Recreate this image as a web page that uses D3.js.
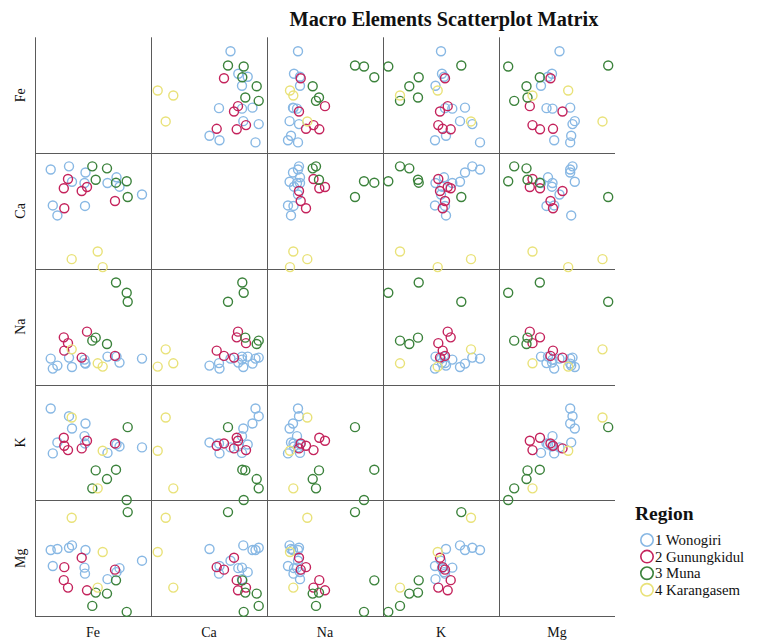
<!DOCTYPE html>
<html><head><meta charset="utf-8">
<script src="https://cdn.jsdelivr.net/npm/d3@7"></script>
<style>body{margin:0;background:#fff}svg{display:block}</style>
</head><body>
<svg id="c" width="776" height="642"></svg>
<script>
// Variables (matrix order)
const variables = ["Fe","Ca","Na","K","Mg"];
const regionNames = ["1 Wonogiri","2 Gunungkidul","3 Muna","4 Karangasem"];
const regionColors = ["#88b8e4","#c4235c","#3b823b","#e9e279"];
// Region index of each sample
const region = [0,0,0,0,0,0,0,0,0,0,0,0, 1,1,1,1,1,1, 2,2,2,2,2,2, 3,3,3];
// Element values (relative units, 0-116)
const Fe = [107,84.5,81.5,72.5,50.5,49.5,50,37,34,22.4,17.8,15.7, 46.7,29.3,80,28.8,33,52, 92.7,81,60.7,72,57.3,91.7, 36.7,67.7,62.7];
const Ca = [79.5,87.3,96.7,91,101.5,91,68,92.3,107.7,58.5,68.5,104.5, 83,65.7,73,85.7,95,87, 77,91.3,94.3,105.7,107.7,92.7, 14.7,6.7,22.3];
const Na = [31,27,33,33,26,30,26.5,22.6,32,24,21,31, 32,39,33.7,52.3,46.5,58, 88,107.3,52,45.7,49,97, 40.3,23,26.3];
const K  = [58,59,61,52.5,82,69.3,62,77,89.3,63,52,97, 57,59.7,62,67.7,55.3,64.7, 78.3,35.7,35,26.3,17,5.3, 88,54.7,17];
const Mg = [60.5,53,49,42,71.2,53.5,47.5,75.8,73.5,72.2,55.2,71.2, 63.5,54,51.5,41,33.5,30.8, 109.2,40.8,28.5,27.5,15.2,9.2, 103.5,69.2,33.5];
const valueDomain = [0,116];

const columns = {Fe, Ca, Na, K, Mg};
const samples = region.map((r,i) => {
  const o = {region: r};
  variables.forEach(v => o[v] = columns[v][i]);
  return o;
});

const svg = d3.select("#c");
const gridLeft = 35, gridTop = 37.3, cw = 116, ch = 115.75;
const n = variables.length;
const colScale = d3.scaleBand().domain(variables).range([gridLeft, gridLeft + n*cw]);
const rowScale = d3.scaleBand().domain(variables).range([gridTop, gridTop + n*ch]);
const xIn = d3.scaleLinear().domain(valueDomain).range([0, cw]);
const yIn = d3.scaleLinear().domain(valueDomain).range([ch + 5, 5]);
const color = d3.scaleOrdinal().domain([0,1,2,3]).range(regionColors);
const font = "'Liberation Serif','Times New Roman',serif";

// Title
svg.append("text").attr("x", 444).attr("y", 26).attr("text-anchor","middle")
  .attr("font-family", font).attr("font-weight","bold").attr("font-size", 20.3)
  .attr("fill","#111").text("Macro Elements Scatterplot Matrix");

// Grid lines
const g = svg.append("g");
variables.forEach(v => {
  const x = Math.round(colScale(v)) + 0.5;
  g.append("line").attr("x1", x).attr("x2", x).attr("y1", gridTop).attr("y2", gridTop + n*ch)
    .attr("stroke","#5a5a5a").attr("stroke-width",1);
  const y = Math.round(rowScale(v) + ch) + 0.5;
  g.append("line").attr("x1", gridLeft).attr("x2", gridLeft + n*cw).attr("y1", y).attr("y2", y)
    .attr("stroke","#5a5a5a").attr("stroke-width",1);
});

// Cells
variables.forEach(rv => {
  variables.forEach(cv => {
    if (rv === cv) return;
    const cell = svg.append("g")
      .attr("transform", `translate(${colScale(cv)},${rowScale(rv)})`);
    cell.selectAll("circle").data(samples).join("circle")
      .attr("cx", d => xIn(d[cv]))
      .attr("cy", d => yIn(d[rv]))
      .attr("r", 4.5)
      .attr("fill","none")
      .attr("stroke", d => color(d.region))
      .attr("stroke-width", 1.4);
  });
});

// Axis labels
variables.forEach(v => {
  svg.append("text").attr("x", colScale(v) + cw/2).attr("y", 637)
    .attr("text-anchor","middle").attr("font-family", font).attr("font-size", 14)
    .attr("fill","#111").text(v);
  const cy = rowScale(v) + ch/2;
  svg.append("text").attr("transform", `translate(25,${cy}) rotate(-90)`)
    .attr("text-anchor","middle").attr("font-family", font).attr("font-size", 14)
    .attr("fill","#111").text(v);
});

// Legend
const lg = svg.append("g");
lg.append("text").attr("x", 635).attr("y", 520).attr("font-family", font)
  .attr("font-weight","bold").attr("font-size", 19.5).attr("fill","#111").text("Region");
regionNames.forEach((name, i) => {
  const y = 540 + i*16.6;
  lg.append("circle").attr("cx", 647).attr("cy", y).attr("r", 6.2)
    .attr("fill","none").attr("stroke", regionColors[i]).attr("stroke-width", 1.6);
  lg.append("text").attr("x", 655).attr("y", y + 5).attr("font-family", font)
    .attr("font-size", 14.8).attr("fill","#111").text(name);
});
</script>
</body></html>
